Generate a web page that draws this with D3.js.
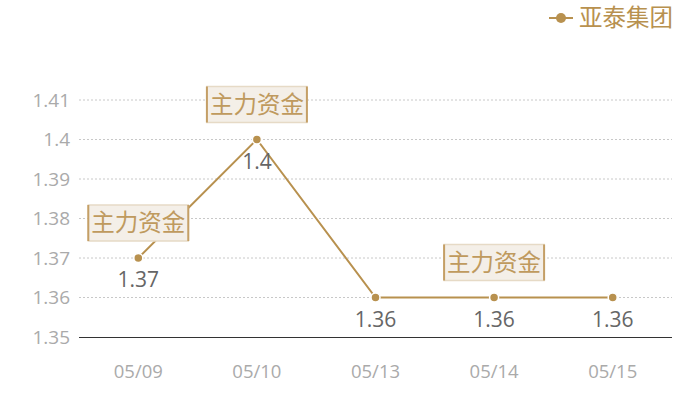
<!DOCTYPE html>
<html><head><meta charset="utf-8">
<script src="https://cdn.jsdelivr.net/npm/d3@7/dist/d3.min.js"></script>
<style>body{margin:0;background:#fff}svg{display:block}</style>
</head><body><svg id="c" width="700" height="400"></svg>
<script>
const categories = ["05/09","05/10","05/13","05/14","05/15"];
const values = [1.37,1.4,1.36,1.36,1.36];
const yTicks = [1.35,1.36,1.37,1.38,1.39,1.40,1.41];
const seriesName = "亚泰集团";
const markText = "主力资金";
const markIndices = [0,1,3];

const gold = "#b8914f";
const font = "'Open Sans', 'Noto Sans CJK SC', sans-serif";
const cjk = "'Noto Sans CJK SC', sans-serif";
const svg = d3.select("#c");
const x = d3.scaleBand().domain(categories).range([79,672]);
const y = d3.scaleLinear().domain([1.35,1.41]).range([337,100]);
const cx = d => x(d) + x.bandwidth()/2;

// grid
svg.append("g").selectAll("line").data(yTicks.slice(1)).join("line")
  .attr("x1",79).attr("x2",672).attr("y1",d=>y(d)).attr("y2",d=>y(d))
  .attr("stroke","#c8c8c8").attr("stroke-dasharray","2,2").attr("stroke-width",1);

// y axis labels
const yAxis = d3.axisLeft(y).tickValues(yTicks).tickSize(0).tickPadding(9).tickFormat(d=>String(+d.toFixed(2)));
const ya = svg.append("g").attr("transform","translate(79,0)").call(yAxis);
ya.select(".domain").remove();
ya.selectAll("text").attr("fill","#aaa").attr("font-size",19).attr("font-family",font);

// x axis
const xAxis = d3.axisBottom(x).tickSize(0).tickPadding(27);
const xa = svg.append("g").attr("transform","translate(0,337.5)").call(xAxis);
xa.select(".domain").attr("stroke","#333").attr("d","M79,0H672");
xa.selectAll("text").attr("fill","#aaa").attr("font-size",18.5).attr("font-family",font);

// line
const line = d3.line().x((d,i)=>cx(categories[i])).y(d=>y(d));
svg.append("path").datum(values).attr("d",line).attr("fill","none").attr("stroke",gold).attr("stroke-width",2);

// points
svg.append("g").selectAll("circle").data(values).join("circle")
  .attr("cx",(d,i)=>cx(categories[i])).attr("cy",d=>y(d)).attr("r",4.5)
  .attr("fill",gold).attr("stroke","#fff").attr("stroke-width",1.5);

// value labels
svg.append("g").selectAll("text").data(values).join("text")
  .attr("x",(d,i)=>cx(categories[i])).attr("y",d=>y(d)+29)
  .attr("text-anchor","middle").attr("fill","#666").attr("font-size",21).attr("font-family",font)
  .text(d=>String(d));

// mark boxes
const bw = 100, bh = 36;
const mg = svg.append("g").selectAll("g").data(markIndices).join("g")
  .attr("transform",i=>`translate(${cx(categories[i])},${y(values[i])-35})`);
mg.append("rect").attr("x",-bw/2).attr("y",-bh/2).attr("width",bw).attr("height",bh)
  .attr("fill","#f4efe8").attr("stroke","#e6dac6").attr("stroke-width",1.5);
mg.append("line").attr("x1",-bw/2).attr("x2",-bw/2).attr("y1",-bh/2).attr("y2",bh/2).attr("stroke","#c49f66").attr("stroke-width",2);
mg.append("line").attr("x1",bw/2).attr("x2",bw/2).attr("y1",-bh/2).attr("y2",bh/2).attr("stroke","#c49f66").attr("stroke-width",2);
mg.append("text").attr("text-anchor","middle").attr("dy","0.36em").attr("fill","#bf9a5e")
  .attr("font-size",23.5).attr("font-family",cjk).text(markText);

// legend
const lg = svg.append("g").attr("transform","translate(549,18)");
lg.append("line").attr("x1",0).attr("x2",24).attr("stroke",gold).attr("stroke-width",2);
lg.append("circle").attr("cx",12).attr("r",5).attr("fill",gold);
lg.append("text").attr("x",30).attr("dy","0.36em").attr("fill",gold).attr("font-size",23.5).attr("font-family",cjk).text(seriesName);
</script></body></html>
